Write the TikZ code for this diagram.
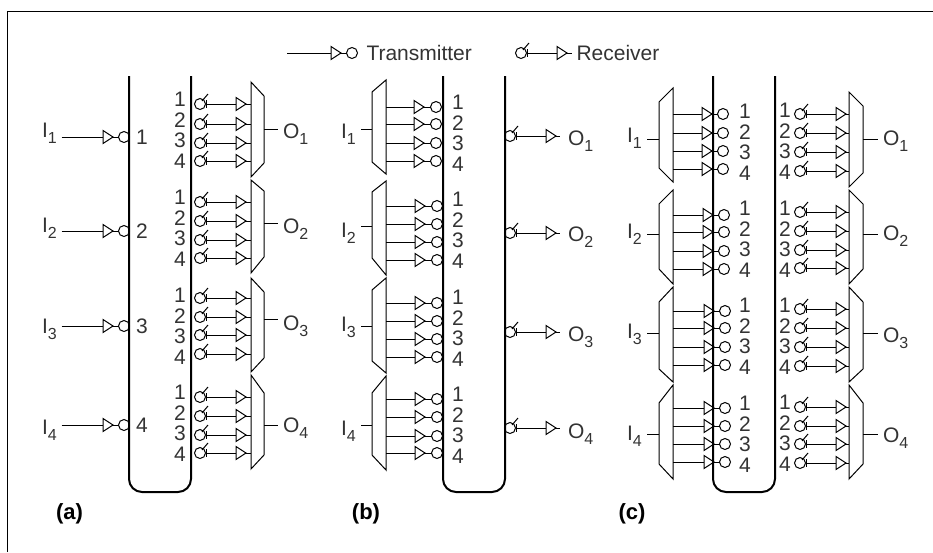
\documentclass[tikz,border=0pt]{standalone}
\usepackage{fontspec}
\setmainfont{Liberation Sans}
\usetikzlibrary{shapes.geometric}
\newcommand{\portsub}[1]{\raisebox{-6pt}{\fontsize{16}{16}\selectfont #1}}
\newcommand{\txline}[5]{\node[tri] (#1t) at (#3,#5) {};\node[ring] (#1c) at (#4,#5) {};\draw (#2 |- #1t.lower side)--(#1t.lower side);\draw (#1t.apex)--(#1c);}
\newcommand{\rxline}[5]{\node[ring] (#1c) at (#2,#4) {};\node[tri] (#1t) at (#3,#4) {};\draw ([shift={(6,-4)}]#1c.center)--([shift={(6,4)}]#1c.center);\draw ([shift={(2,-3)}]#1c.center)--([shift={(8,-10)}]#1c.center);\draw (#1c)--(#1t.lower side);\draw (#1t.apex)--(#1t.apex -| #5);}
\newcommand{\muxbox}[8]{\coordinate (#1l) at (#2,#4);\coordinate (#1s) at (#3,#8);\draw (#2,#4)--(#3,#5)--(#3,#6)--(#2,#7)--cycle;}
\begin{document}
\begin{tikzpicture}[x=1pt,y=-1pt,line width=1pt,every node/.style={font=\fontsize{21}{21}\selectfont,text=black!80},
tri/.style={draw,isosceles triangle,isosceles triangle stretches,minimum width=13pt,minimum height=10pt,inner sep=0pt,outer sep=0pt,anchor=lower side},
ring/.style={draw,circle,minimum size=11pt,inner sep=0pt,outer sep=0pt},
num/.style={inner sep=0pt},lab/.style={inner sep=0pt,outer xsep=5pt,anchor=base west},
bus/.style={line width=2pt,rounded corners=13pt},caption/.style={inner sep=0pt,font=\fontsize{22}{22}\selectfont\bfseries,text=black}]
\useasboundingbox (0,0) rectangle (933,552);
\draw (7,552)--(7,11)--(933,11);
\coordinate (legs) at (287,53);\coordinate (lege) at (572,53);
\txline{legt}{legs}{331}{352}{53}
\node[inner sep=0pt,anchor=west] (legtx) at (366,53) {Transmitter};
\rxline{legr}{521}{557}{53}{lege}
\node[inner sep=0pt,anchor=west] (legrx) at (576,53) {Receiver};
\draw[bus] (129,76)--(129,492)--(191,492)--(191,76);
\draw[bus] (443,76)--(443,492)--(505,492)--(505,76);
\draw[bus] (713,76)--(713,492)--(775,492)--(775,76);
\foreach \g/\y/\yl in {1/137/137,2/231/232,3/326/333,4/425/434}{
\node[lab] (ai\g) at (37,\yl) {I\portsub{\g}};
\txline{atx\g}{ai\g.east}{103}{124}{\y}
\node[num] (an\g) at (142,\y) {\g};
}
\foreach \g/\ta/\tb/\tc/\td/\sy/\yl/\ny/\rows in {
1/82/96/163/177/129/138/99/{104,124,143,161},
2/180/191/257/273/223/233/197/{202,221,240,258},
3/278/292/358/372/319/330/295/{298,317,335,354},
4/375/393/455/469/425/432/392/{397,416,435,453}}{
\muxbox{amx\g}{251}{264}{\ta}{\tb}{\tc}{\td}{\sy}
\node[lab] (ao\g) at (278,\yl) {O\portsub{\g}};
\draw (amx\g s)--(amx\g s -| ao\g.west);
\foreach \y [count=\n] in \rows {
\rxline{arx\g\n}{200}{236}{\y}{amx\g l}
\pgfmathsetmacro{\yn}{\ny+20.7*(\n-1)}
\node[num] (arn\g\n) at (180,\yn) {\n};
}}
\foreach \g/\ta/\tb/\tc/\td/\sy/\yl/\ny/\dx/\ry/\rl/\rows in {
1/80/92/162/174/129/138/102/0/136/145/{107,124,143,161},
2/181/192/258/275/226/237/199/1/233/241/{206,224,242,260},
3/278/290/361/373/326/331/297/1/332/341/{303,321,339,357},
4/376/393/455/470/425/435/394/1/428/438/{399,417,436,453}}{
\muxbox{bmx\g}{386}{372}{\ta}{\tb}{\tc}{\td}{\sy}
\node[lab] (bi\g) at (336,\yl) {I\portsub{\g}};
\draw (bmx\g s)--(bmx\g s -| bi\g.east);
\foreach \y [count=\n] in \rows {
\txline{btx\g\n}{bmx\g l}{414+\dx}{436+\dx}{\y}
\pgfmathsetmacro{\yn}{\ny+20.7*(\n-1)}
\node[num] (btn\g\n) at (458,\yn) {\n};
}
\node[lab,outer xsep=8pt] (bo\g) at (560,\rl) {O\portsub{\g}};
\rxline{brx\g}{510}{546}{\ry}{bo\g.west}
}
\foreach \g/\ta/\tb/\tc/\td/\sy/\yl/\ny/\dx/\rows in {
1/88/102/168/182/139/142/111/0/{114,133,151,169},
2/190/204/269/284/234/238/208/1/{215,232,251,269},
3/287/302/369/382/333/338/305/2/{311,328,347,365},
4/385/403/464/479/434/440/403/2/{408,426,444,462}}{
\muxbox{cmx\g}{673}{659}{\ta}{\tb}{\tc}{\td}{\sy}
\node[lab] (ci\g) at (622,\yl) {I\portsub{\g}};
\draw (cmx\g s)--(cmx\g s -| ci\g.east);
\foreach \y [count=\n] in \rows {
\txline{ctx\g\n}{cmx\g l}{702+\dx}{723+\dx}{\y}
\pgfmathsetmacro{\yn}{\ny+20.7*(\n-1)}
\node[num] (ctn\g\n) at (745,\yn) {\n};
}}
\foreach \g/\ta/\tb/\tc/\td/\sy/\yl/\ny/\rows in {
1/92/106/173/187/139/145/110/{114,133,152,171},
2/190/204/269/284/234/240/208/{212,231,250,268},
3/287/302/369/382/333/342/305/{309,328,347,366},
4/385/403/464/479/434/442/402/{407,426,444,463}}{
\muxbox{dmx\g}{849}{863}{\ta}{\tb}{\tc}{\td}{\sy}
\node[lab] (do\g) at (878,\yl) {O\portsub{\g}};
\draw (dmx\g s)--(dmx\g s -| do\g.west);
\foreach \y [count=\n] in \rows {
\rxline{crx\g\n}{800}{836}{\y}{dmx\g l}
\pgfmathsetmacro{\yn}{\ny+20.7*(\n-1)}
\node[num] (crn\g\n) at (785,\yn) {\n};
}}
\node[caption] (capa) at (69.5,514) {(a)};
\node[caption] (capb) at (366,514) {(b)};
\node[caption] (capc) at (632,514) {(c)};
\end{tikzpicture}
\end{document}
